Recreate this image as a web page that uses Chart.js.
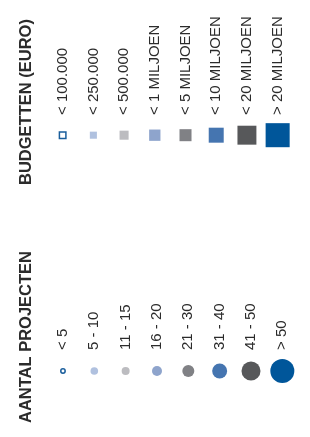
<!DOCTYPE html>
<html>
<head>
<meta charset="utf-8">
<script src="https://cdn.jsdelivr.net/npm/chart.js@4/dist/chart.umd.min.js"></script>
<style>
  body { margin: 0; background: #fff; }
  canvas { display: block; }
</style>
</head>
<body>
<canvas id="budgetChart" width="310" height="190"></canvas>
<canvas id="projectChart" width="310" height="247"></canvas>
<script>
// legend rows (one marker per category, all on the same row)
const budgetTitle = 'BUDGETTEN (EURO)';
const budgetLabels = ['< 100.000', '< 250.000', '< 500.000', '< 1 MILJOEN', '< 5 MILJOEN', '< 10 MILJOEN', '< 20 MILJOEN', '> 20 MILJOEN'];
const budgetRow = [0, 0, 0, 0, 0, 0, 0, 0];

const projectTitle = 'AANTAL PROJECTEN';
const projectLabels = ['< 5', '5 - 10', '11 - 15', '16 - 20', '21 - 30', '31 - 40', '41 - 50', '> 50'];
const projectRow = [0, 0, 0, 0, 0, 0, 0, 0];

// styling
const fillColors = ['#ffffff', '#b0c1df', '#bcbcc0', '#8ea4cc', '#808185', '#4575b0', '#57585a', '#00569a'];
const edgeColors = ['#1a5e9c', '#b0c1df', '#bcbcc0', '#8ea4cc', '#808185', '#4575b0', '#57585a', '#00569a'];
const edgeWidths = [1.5, 0, 0, 0, 0, 0, 0, 0];
const squareRadius = [4.6, 5, 6.4, 8, 8.5, 10.6, 13.4, 17];
const circleRadius = [2.2, 3.8, 4, 5, 6, 7.5, 9.5, 12];
const textColor = '#2b2b2b';
const fontFamily = "'Liberation Sans', Arial, sans-serif";

function legendConfig(title, labels, row, pointStyle, radius, axisHeight, yMin, padBottom) {
    return {
        type: 'line',
        data: {
            labels: labels,
            datasets: [{
                data: row,
                showLine: false,
                pointStyle: pointStyle,
                pointRadius: radius,
                pointBackgroundColor: fillColors,
                pointBorderColor: edgeColors,
                pointBorderWidth: edgeWidths,
                clip: false
            }]
        },
        options: {
            responsive: false,
            animation: false,
            events: [],
            layout: { padding: { left: 0, right: 7, top: 0, bottom: padBottom } },
            plugins: {
                legend: { display: false },
                tooltip: { enabled: false },
                title: {
                    display: true,
                    text: title,
                    position: 'left',
                    align: 'start',
                    color: textColor,
                    font: { family: fontFamily, size: 16.5, weight: 'bold' },
                    padding: { top: 16.6, bottom: 10.9 }
                }
            },
            scales: {
                x: {
                    type: 'category',
                    position: 'top',
                    offset: true,
                    grid: { display: false, drawTicks: false },
                    border: { display: false },
                    ticks: {
                        autoSkip: false,
                        minRotation: 90,
                        maxRotation: 90,
                        padding: 3,
                        labelOffset: 18,
                        color: textColor,
                        font: { family: fontFamily, size: 15 }
                    },
                    afterFit: function (scale) { scale.height = axisHeight; }
                },
                y: {
                    display: false,
                    min: yMin,
                    max: 1
                }
            }
        }
    };
}

const chart1 = new Chart(
    document.getElementById('budgetChart'),
    legendConfig(budgetTitle, budgetLabels, budgetRow, 'rect', squareRadius, 118, -2.2, 5)
);

const chart2 = new Chart(
    document.getElementById('projectChart'),
    legendConfig(projectTitle, projectLabels, projectRow, 'circle', circleRadius, 163, -2.9, 14)
);
</script>
</body>
</html>
